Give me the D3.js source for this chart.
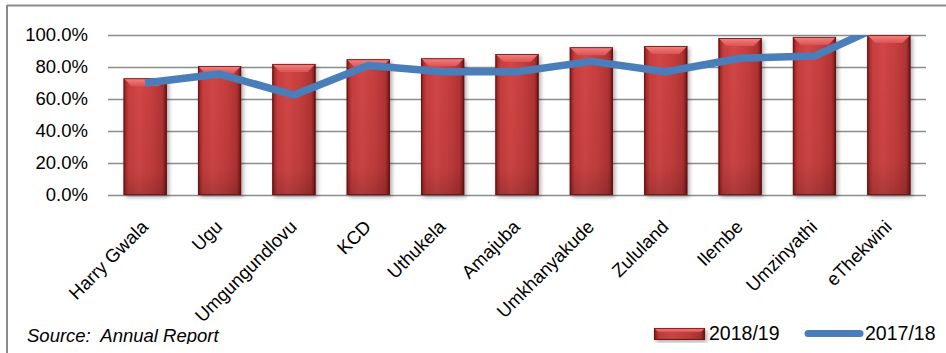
<!DOCTYPE html>
<html>
<head>
<meta charset="utf-8">
<script src="https://cdn.jsdelivr.net/npm/d3@7"></script>
<style>
  html, body { margin: 0; padding: 0; background: #fff; }
  svg { display: block; font-family: "Liberation Sans", Arial, sans-serif; }
  .note { white-space: pre; }
</style>
</head>
<body>
<svg id="chart" width="946" height="353"></svg>
<script>
// District municipalities
const categories = ["Harry Gwala", "Ugu", "Umgungundlovu", "KCD", "Uthukela", "Amajuba",
  "Umkhanyakude", "Zululand", "Ilembe", "Umzinyathi", "eThekwini"];
// 2018/19 (bars)
const values2018 = [0.729, 0.806, 0.819, 0.848, 0.854, 0.881, 0.923, 0.931, 0.981, 0.988, 1.0];
// 2017/18 (line)
const values2017 = [0.70, 0.756, 0.625, 0.81, 0.77, 0.77, 0.835, 0.77, 0.855, 0.868, 1.08];
const yTicks = [0, 0.2, 0.4, 0.6, 0.8, 1.0];
const seriesNames = ["2018/19", "2017/18"];

const svg = d3.select("#chart");
const defs = svg.append("defs");

const plot = { left: 108, right: 926, top: 35, bottom: 195 };

const x = d3.scaleBand().domain(categories)
  .range([plot.left, plot.right]).paddingInner(0.42).paddingOuter(0.21);
const y = d3.scaleLinear().domain([0, 1]).range([plot.bottom, plot.top]);

// chart frame (top and left edges visible)
svg.append("line").attr("x1", 7).attr("x2", 946).attr("y1", 5.5).attr("y2", 5.5)
  .attr("stroke", "#8a8a8a").attr("stroke-width", 2);
svg.append("line").attr("x1", 7).attr("x2", 7).attr("y1", 5).attr("y2", 353)
  .attr("stroke", "#8a8a8a").attr("stroke-width", 2);

// gradients for the bevelled bars
const bodyGrad = defs.append("linearGradient").attr("id", "barBody")
  .attr("x1", "0").attr("x2", "1").attr("y1", "0").attr("y2", "0");
[["0%", "#6e1515"], ["5%", "#a92c2c"], ["12%", "#c73e3e"], ["35%", "#d24646"],
 ["65%", "#c63e3e"], ["90%", "#b13333"], ["96%", "#8a2020"], ["100%", "#4e0c0c"]]
  .forEach(([o, c]) => bodyGrad.append("stop").attr("offset", o).attr("stop-color", c));
const topGrad = defs.append("linearGradient").attr("id", "barTop")
  .attr("x1", "0").attr("x2", "0").attr("y1", "0").attr("y2", "1");
[["0%", "#f28383"], ["100%", "#dc5252"]]
  .forEach(([o, c]) => topGrad.append("stop").attr("offset", o).attr("stop-color", c));
const vGrad = defs.append("linearGradient").attr("id", "barShade")
  .attr("x1", "0").attr("x2", "0").attr("y1", "0").attr("y2", "1");
[["0%", "#000", 0], ["80%", "#000", 0.05], ["100%", "#000", 0.18]]
  .forEach(([o, c, a]) => vGrad.append("stop").attr("offset", o).attr("stop-color", c).attr("stop-opacity", a));

const shadow = defs.append("filter").attr("id", "shadow")
  .attr("x", "-20%").attr("y", "-10%").attr("width", "150%").attr("height", "130%");
shadow.append("feDropShadow").attr("dx", 2).attr("dy", 2).attr("stdDeviation", 2)
  .attr("flood-color", "#000").attr("flood-opacity", 0.35);

// gridlines
svg.append("g").selectAll("line").data(yTicks).join("line")
  .attr("x1", plot.left).attr("x2", plot.right)
  .attr("y1", d => Math.round(y(d)) + 0.5).attr("y2", d => Math.round(y(d)) + 0.5)
  .attr("stroke", "#8c8c8c").attr("stroke-width", 1.3);

// y axis labels
svg.append("g").selectAll("text").data(yTicks).join("text")
  .attr("x", 88).attr("y", d => y(d)).attr("dy", "0.34em")
  .attr("text-anchor", "end").attr("font-size", 18.5).attr("fill", "#000")
  .text(d => d3.format(".1%")(d));

function bevelBar(g, bx, by, bw, bh, b) {
  g.append("rect").attr("x", bx).attr("y", by).attr("width", bw).attr("height", bh)
    .attr("fill", "url(#barBody)").attr("filter", "url(#shadow)");
  g.append("rect").attr("x", bx).attr("y", by).attr("width", bw).attr("height", bh)
    .attr("fill", "url(#barShade)");
  g.append("path")
    .attr("d", `M${bx},${by}L${bx + bw},${by}L${bx + bw - b},${by + b}L${bx + b},${by + b}Z`)
    .attr("fill", "url(#barTop)");
  g.append("rect").attr("x", bx + 0.4).attr("y", by + 0.4).attr("width", bw - 0.8).attr("height", bh - 0.8)
    .attr("fill", "none").attr("stroke", "#6a1212").attr("stroke-width", 0.8);
}

// bars (2018/19)
const barsG = svg.append("g");
categories.forEach((c, i) => {
  const g = barsG.append("g");
  const top = y(values2018[i]);
  bevelBar(g, x(c), top, x.bandwidth(), y(0) - top, 8);
});

// line (2017/18), clipped to plot area
defs.append("clipPath").attr("id", "plotClip").append("rect")
  .attr("x", 0).attr("y", plot.top).attr("width", 946).attr("height", 353);
const line = d3.line()
  .x((d, i) => x(categories[i]) + x.bandwidth() / 2)
  .y(d => y(d));
svg.append("path").datum(values2017)
  .attr("d", line).attr("fill", "none")
  .attr("stroke", "#4a7ebb").attr("stroke-width", 7.5)
  .attr("stroke-linejoin", "round").attr("stroke-linecap", "butt")
  .attr("clip-path", "url(#plotClip)");

// category labels
svg.append("g").selectAll("text").data(categories).join("text")
  .attr("transform", d => `translate(${x(d) + x.bandwidth() / 2 + 4},${228}) rotate(-45)`)
  .attr("text-anchor", "end").attr("font-size", 18.5).attr("fill", "#000")
  .text(d => d);

// source note
defs.append("clipPath").attr("id", "noteClip").append("rect")
  .attr("x", 0).attr("y", 0).attr("width", 946).attr("height", 344);
svg.append("text").attr("class", "note").attr("x", 27).attr("y", 342)
  .attr("font-size", 18.5).attr("font-style", "italic").attr("fill", "#000")
  .attr("clip-path", "url(#noteClip)")
  .text("Source:  Annual Report");

// legend
const lg = svg.append("g");
bevelBar(lg.append("g"), 654, 328, 51, 12, 4);
lg.append("text").attr("x", 709).attr("y", 340).attr("font-size", 19.5).text(seriesNames[0]);
lg.append("line").attr("x1", 808).attr("x2", 860).attr("y1", 333.5).attr("y2", 333.5)
  .attr("stroke", "#4a7ebb").attr("stroke-width", 7).attr("stroke-linecap", "round");
lg.append("text").attr("x", 865).attr("y", 340).attr("font-size", 19.5).text(seriesNames[1]);
</script>
</body>
</html>
